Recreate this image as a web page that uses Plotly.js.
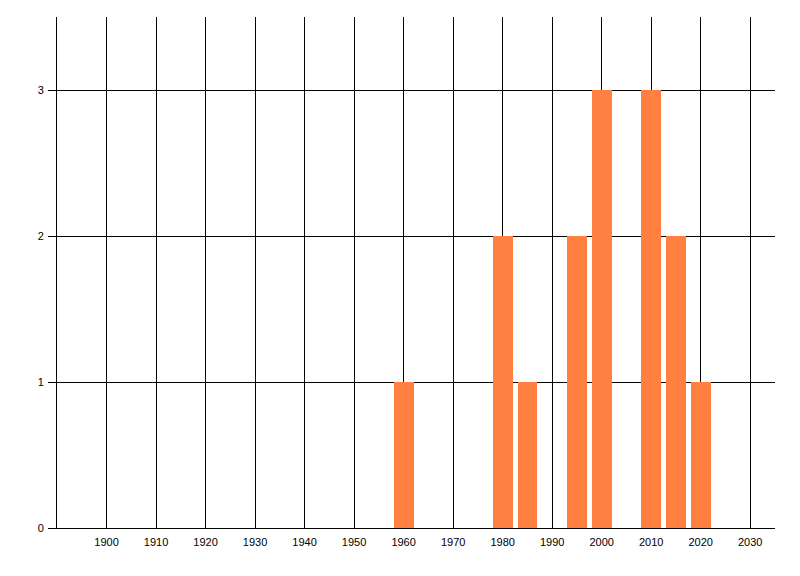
<!DOCTYPE html>
<html>
<head>
<meta charset="utf-8">
<script src="https://cdn.plot.ly/plotly-3.0.1.min.js"></script>
<style>html,body{margin:0;padding:0;background:#fff;}#chart{width:800px;height:576px;}</style>
</head>
<body>
<div id="chart"></div>
<script>
const years = [1960, 1980, 1985, 1995, 2000, 2010, 2015, 2020];
const counts = [1, 2, 1, 2, 3, 3, 2, 1];
const xTickVals = [1900, 1910, 1920, 1930, 1940, 1950, 1960, 1970, 1980, 1990, 2000, 2010, 2020, 2030];
const yTickVals = [0, 1, 2, 3];

const trace = {
  type: 'bar',
  x: years,
  y: counts,
  width: 4,
  marker: {color: '#FF8040', line: {width: 0}},
  hoverinfo: 'x+y'
};

const layout = {
  width: 800,
  height: 576,
  margin: {l: 57, r: 25, t: 17, b: 48, pad: 0},
  paper_bgcolor: '#ffffff',
  plot_bgcolor: '#ffffff',
  showlegend: false,
  font: {family: 'Liberation Sans, Arial, sans-serif', size: 11, color: '#000000'},
  xaxis: {
    range: [1890, 2035],
    tickmode: 'array',
    tickvals: xTickVals,
    ticktext: xTickVals.map(String),
    showgrid: true,
    gridcolor: '#000000',
    gridwidth: 1,
    showline: true,
    linecolor: '#000000',
    linewidth: 1,
    zeroline: false,
    ticks: '',
    ticklabelstandoff: 4,
    tickfont: {size: 11, color: '#000000'}
  },
  yaxis: {
    range: [0, 3.5],
    tickmode: 'array',
    tickvals: yTickVals,
    ticktext: yTickVals.map(String),
    showgrid: true,
    gridcolor: '#000000',
    gridwidth: 1,
    showline: true,
    linecolor: '#000000',
    linewidth: 1,
    zeroline: false,
    ticks: 'outside',
    ticklen: 8,
    tickcolor: '#000000',
    tickwidth: 1,
    ticklabelstandoff: 2,
    tickfont: {size: 11, color: '#000000'}
  },
  bargap: 0
};

Plotly.newPlot('chart', [trace], layout, {displayModeBar: false, staticPlot: true});
</script>
</body>
</html>
